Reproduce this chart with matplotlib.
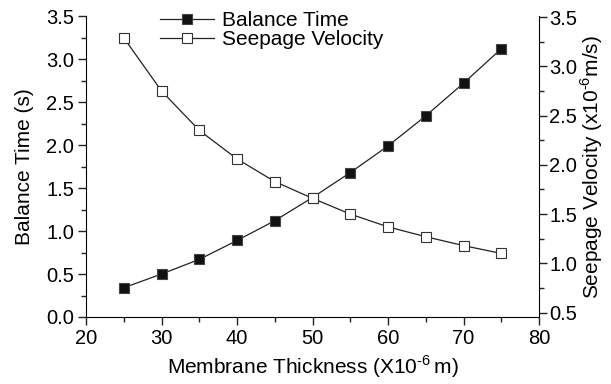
import matplotlib
matplotlib.use('Agg')
import matplotlib.pyplot as plt
from matplotlib.ticker import MultipleLocator

plt.rcParams['font.family'] = ['Liberation Sans', 'DejaVu Sans']
plt.rcParams['mathtext.fontset'] = 'custom'
plt.rcParams['mathtext.rm'] = 'Liberation Sans'

thickness = [25, 30, 35, 40, 45, 50, 55, 60, 65, 70, 75]
balance_time = [0.34, 0.50, 0.67, 0.89, 1.12, 1.39, 1.68, 1.99, 2.34, 2.72, 3.12]
seepage_vel = [3.29, 2.75, 2.35, 2.06, 1.83, 1.66, 1.50, 1.37, 1.27, 1.18, 1.10]

fig = plt.figure(figsize=(6.11, 3.84), dpi=100)
ax = fig.add_axes([0.1408, 0.1745, 0.7414, 0.7835])
ax2 = ax.twinx()

l1, = ax.plot(thickness, balance_time, '-s', color='#222222', lw=0.9,
              ms=6.5, mfc='#111111', mec='#444444', mew=0.8, label='Balance Time')
l2, = ax2.plot(thickness, seepage_vel, '-s', color='#222222', lw=0.9,
               ms=6.5, mfc='white', mec='#333333', mew=0.8, label='Seepage Velocity')

ax.set_xlim(20, 80)
ax.set_ylim(0, 3.5)
ax2.set_ylim(0.455, 3.51)

ax.xaxis.set_major_locator(MultipleLocator(10))
ax.xaxis.set_minor_locator(MultipleLocator(5))
ax.yaxis.set_major_locator(MultipleLocator(0.5))
ax.yaxis.set_minor_locator(MultipleLocator(0.25))
ax2.yaxis.set_major_locator(MultipleLocator(0.5))
ax2.yaxis.set_minor_locator(MultipleLocator(0.25))

for a in (ax, ax2):
    a.spines['top'].set_visible(False)
    a.tick_params(which='major', direction='out', length=5.5, width=1, labelsize=14.5,
                  color='#222222', pad=3)
    a.tick_params(which='minor', direction='out', length=3.5, width=1, color='#222222')
ax2.tick_params(which='major', pad=2)
ax.spines['right'].set_visible(False)
ax2.spines['left'].set_visible(False)
ax2.spines['bottom'].set_visible(False)

ax.set_xlabel('Membrane Thickness (X10$^{\\text{-6}}\\,$m)', fontsize=15, labelpad=4)
ax.set_ylabel('Balance Time (s)', fontsize=15, labelpad=9)
ax2.set_ylabel('Seepage Velocity (x10$^{\\text{-6}}$m/s)', fontsize=15, labelpad=1)

ax.legend([l1, l2], ['Balance Time', 'Seepage Velocity'], loc='upper left',
          bbox_to_anchor=(0.131, 1.065), frameon=False, fontsize=15,
          handlelength=2.6, handletextpad=0.4, labelspacing=0.0, borderpad=0.2)

fig.savefig('out.png', dpi=100)
